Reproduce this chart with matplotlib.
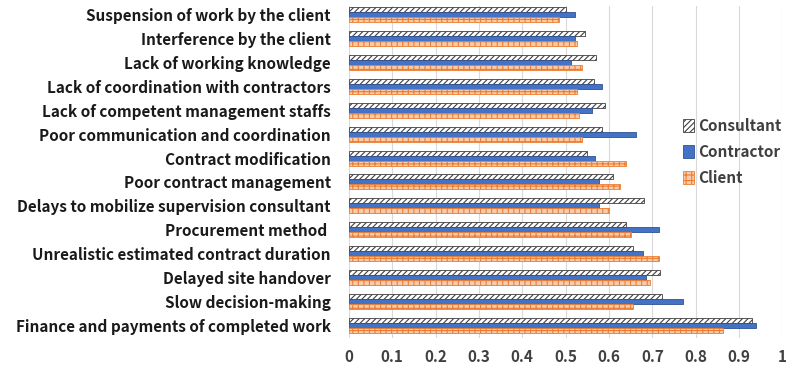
import numpy as np
import matplotlib.pyplot as plt

plt.rcParams['hatch.linewidth'] = 0.8
plt.rcParams['font.family'] = ['Noto Sans CJK KR', 'DejaVu Sans']

categories = ['Suspension of work by the client',
              'Interference by the client',
              'Lack of working knowledge',
              'Lack of coordination with contractors',
              'Lack of competent management staffs',
              'Poor communication and coordination',
              'Contract modification',
              'Poor contract management',
              'Delays to mobilize supervision consultant',
              'Procurement method ',
              'Unrealistic estimated contract duration',
              'Delayed site handover',
              'Slow decision-making',
              'Finance and payments of completed work']

consultant = [0.50, 0.545, 0.57, 0.565, 0.59, 0.583, 0.55, 0.61, 0.68, 0.64, 0.656, 0.718, 0.722, 0.93]
contractor = [0.522, 0.522, 0.513, 0.585, 0.562, 0.662, 0.568, 0.578, 0.578, 0.715, 0.678, 0.685, 0.77, 0.938]
client = [0.485, 0.527, 0.537, 0.527, 0.532, 0.537, 0.64, 0.626, 0.60, 0.65, 0.715, 0.695, 0.656, 0.864]

xticks = [0, 0.1, 0.2, 0.3, 0.4, 0.5, 0.6, 0.7, 0.8, 0.9, 1]
xticklabels = ['0', '0.1', '0.2', '0.3', '0.4', '0.5', '0.6', '0.7', '0.8', '0.9', '1']

fig = plt.figure(figsize=(8, 3.75), dpi=100)
ax = fig.add_axes([0.436, 0.1, 0.542, 0.885])

y = np.arange(len(categories))
h = 0.21

ax.barh(y - h, consultant, h, color='white', edgecolor='#404040', hatch='//////',
        linewidth=0.6, label='Consultant', zorder=3)
ax.barh(y, contractor, h, color='#4472C4', edgecolor='#2F528F',
        linewidth=0.6, label='Contractor', zorder=3)
ax.barh(y + h, client, h, color='#F8CBAD', edgecolor='#ED7D31', hatch='+++',
        linewidth=0.6, label='Client', zorder=3)

ax.set_xlim(0, 1)
ax.set_ylim(13.52, -0.39)
ax.set_yticks(y)
ax.set_yticklabels(categories, fontsize=11, fontweight='bold', color='#1a1a1a')
ax.set_xticks(xticks)
ax.set_xticklabels(xticklabels, fontsize=11, fontweight='bold', color='#404040')
ax.tick_params(axis='y', length=0, pad=13)
ax.tick_params(axis='x', length=0, pad=8)
ax.grid(axis='x', color='#d9d9d9', linewidth=0.8, zorder=0)
for s in ax.spines.values():
    s.set_visible(False)

leg = ax.legend(loc='center right', bbox_to_anchor=(1.03, 0.56), frameon=False,
                prop={'size': 11, 'weight': 'bold'}, handlelength=0.7,
                handleheight=0.9, labelspacing=0.65, handletextpad=0.3)
for t in leg.get_texts():
    t.set_color('#404040')

plt.savefig('out.png')
